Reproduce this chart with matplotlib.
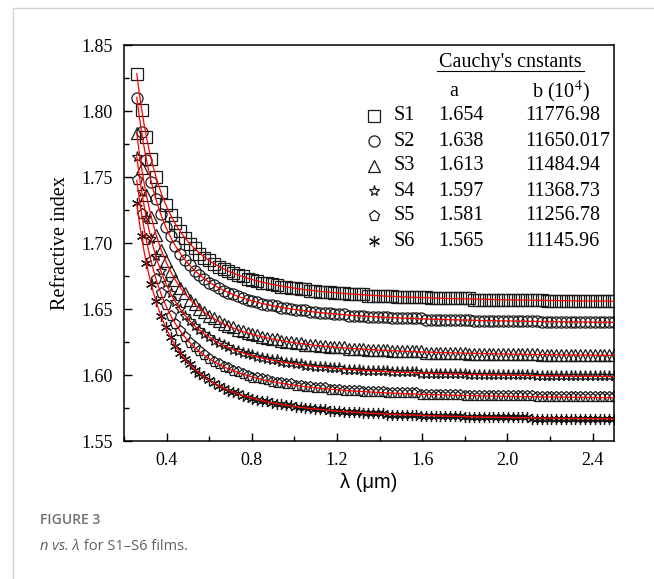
import numpy as np
import matplotlib.pyplot as plt
from matplotlib.lines import Line2D
from matplotlib.ticker import MultipleLocator

plt.rcParams['font.family'] = 'Liberation Serif'
plt.rcParams['mathtext.fontset'] = 'stix'

# Constantes de Cauchy: n = a + b / lambda^2 (lambda en nm)
muestras = ['S1', 'S2', 'S3', 'S4', 'S5', 'S6']
a_cauchy = [1.654, 1.638, 1.613, 1.597, 1.581, 1.565]
b_cauchy = [11776.98, 11650.017, 11484.94, 11368.73, 11256.78, 11145.96]
b_texto = ['11776.98', '11650.017', '11484.94', '11368.73', '11256.78', '11145.96']

marcadores = ['s', 'o', '^', '*', 'p', (6, 2, 0)]

# Longitudes de onda medidas (um)
lam = np.linspace(0.26, 2.50, 100)
lam_fit = np.linspace(0.26, 2.50, 600)

fig = plt.figure(figsize=(6.54, 5.79), dpi=100)
ax = fig.add_axes([124 / 654, 1 - 441 / 579, 490 / 654, 396 / 579])

for s, a, b, m in zip(muestras, a_cauchy, b_cauchy, marcadores):
    n_med = np.round(a + b / (lam * 1000) ** 2, 3)
    n_fit = a + b / (lam_fit * 1000) ** 2
    ax.plot(lam, n_med, linestyle='none', marker=m, markersize=8,
            markerfacecolor='none', markeredgecolor='#1a1a1a',
            markeredgewidth=0.9, zorder=2)
    ax.plot(lam_fit, n_fit, color='red', lw=0.9, zorder=3)

ax.set_xlim(0.2, 2.5)
ax.set_ylim(1.55, 1.85)
ax.xaxis.set_minor_locator(MultipleLocator(0.2))
ax.yaxis.set_minor_locator(MultipleLocator(0.025))
ax.set_xticks([0.4, 0.8, 1.2, 1.6, 2.0, 2.4])
ax.set_xticklabels(['0.4', '0.8', '1.2', '1.6', '2.0', '2.4'])
ax.set_yticks([1.55, 1.60, 1.65, 1.70, 1.75, 1.80, 1.85])
ax.set_yticklabels(['1.55', '1.60', '1.65', '1.70', '1.75', '1.80', '1.85'])
ax.tick_params(which='both', direction='in', top=False, right=False,
               labelsize=13, width=1.0)
ax.tick_params(which='major', length=6, pad=8)
ax.tick_params(which='minor', length=3.5)
for sp in ax.spines.values():
    sp.set_linewidth(1.1)

ax.set_ylabel('Refractive index', fontsize=14.5, labelpad=8)
ax.set_xlabel('\u03bb (\u03bcm)', fontsize=14.5, family='Liberation Sans',
              labelpad=3)

# Tabla de constantes
def fy(y):
    return (441 - y) / 396

def fx(x):
    return (x - 124) / 490

ax.text(fx(510), fy(62), "Cauchy's cnstants", fontsize=14.5, ha='center',
        va='center', transform=ax.transAxes)
ax.plot([fx(437), fx(584)], [fy(70.5), fy(70.5)], color='black', lw=0.8,
        transform=ax.transAxes, clip_on=False)
ax.text(fx(454), fy(92), 'a', fontsize=14.5, ha='center', va='center',
        transform=ax.transAxes)
ax.text(fx(561), fy(92), 'b (10$^{4}$)', fontsize=14.5, ha='center',
        va='center', transform=ax.transAxes)

for i, (s, a, bt, m) in enumerate(zip(muestras, a_cauchy, b_texto, marcadores)):
    y = 116 + 25 * i
    ax.plot([fx(374)], [fy(y)], marker=m, markersize=8, markerfacecolor='none',
            markeredgecolor='#1a1a1a', markeredgewidth=0.9,
            transform=ax.transAxes, clip_on=False)
    ax.text(fx(394), fy(y), s, fontsize=14.5, ha='left', va='center',
            transform=ax.transAxes)
    ax.text(fx(438), fy(y), '%.3f' % a, fontsize=14.5, ha='left', va='center',
            transform=ax.transAxes)
    ax.text(fx(525), fy(y), bt, fontsize=14.5, ha='left', va='center',
            transform=ax.transAxes)

# Marco de la pagina y pie de figura
gris = '#d4d4d4'
fig.add_artist(Line2D([13 / 654, 13 / 654], [0, 1 - 8 / 579], color=gris, lw=1))
fig.add_artist(Line2D([13 / 654, 1], [1 - 8 / 579, 1 - 8 / 579], color=gris, lw=1))

fig.text(40 / 654, 1 - 520 / 579, 'FIGURE 3', family='Open Sans',
         fontsize=10, color='#707070', fontweight='semibold', va='center')
t1 = fig.text(40 / 654, 1 - 546 / 579, 'n vs. \u03bb', family='Open Sans',
              fontsize=10.5, color='#606060', style='italic', va='center')
ax.annotate(' for S1\u2013S6 films.', xy=(1, 0.5), xycoords=t1,
            va='center', ha='left', family='Open Sans', fontsize=10.5,
            color='#606060', annotation_clip=False)

fig.savefig('out.png', dpi=100)
